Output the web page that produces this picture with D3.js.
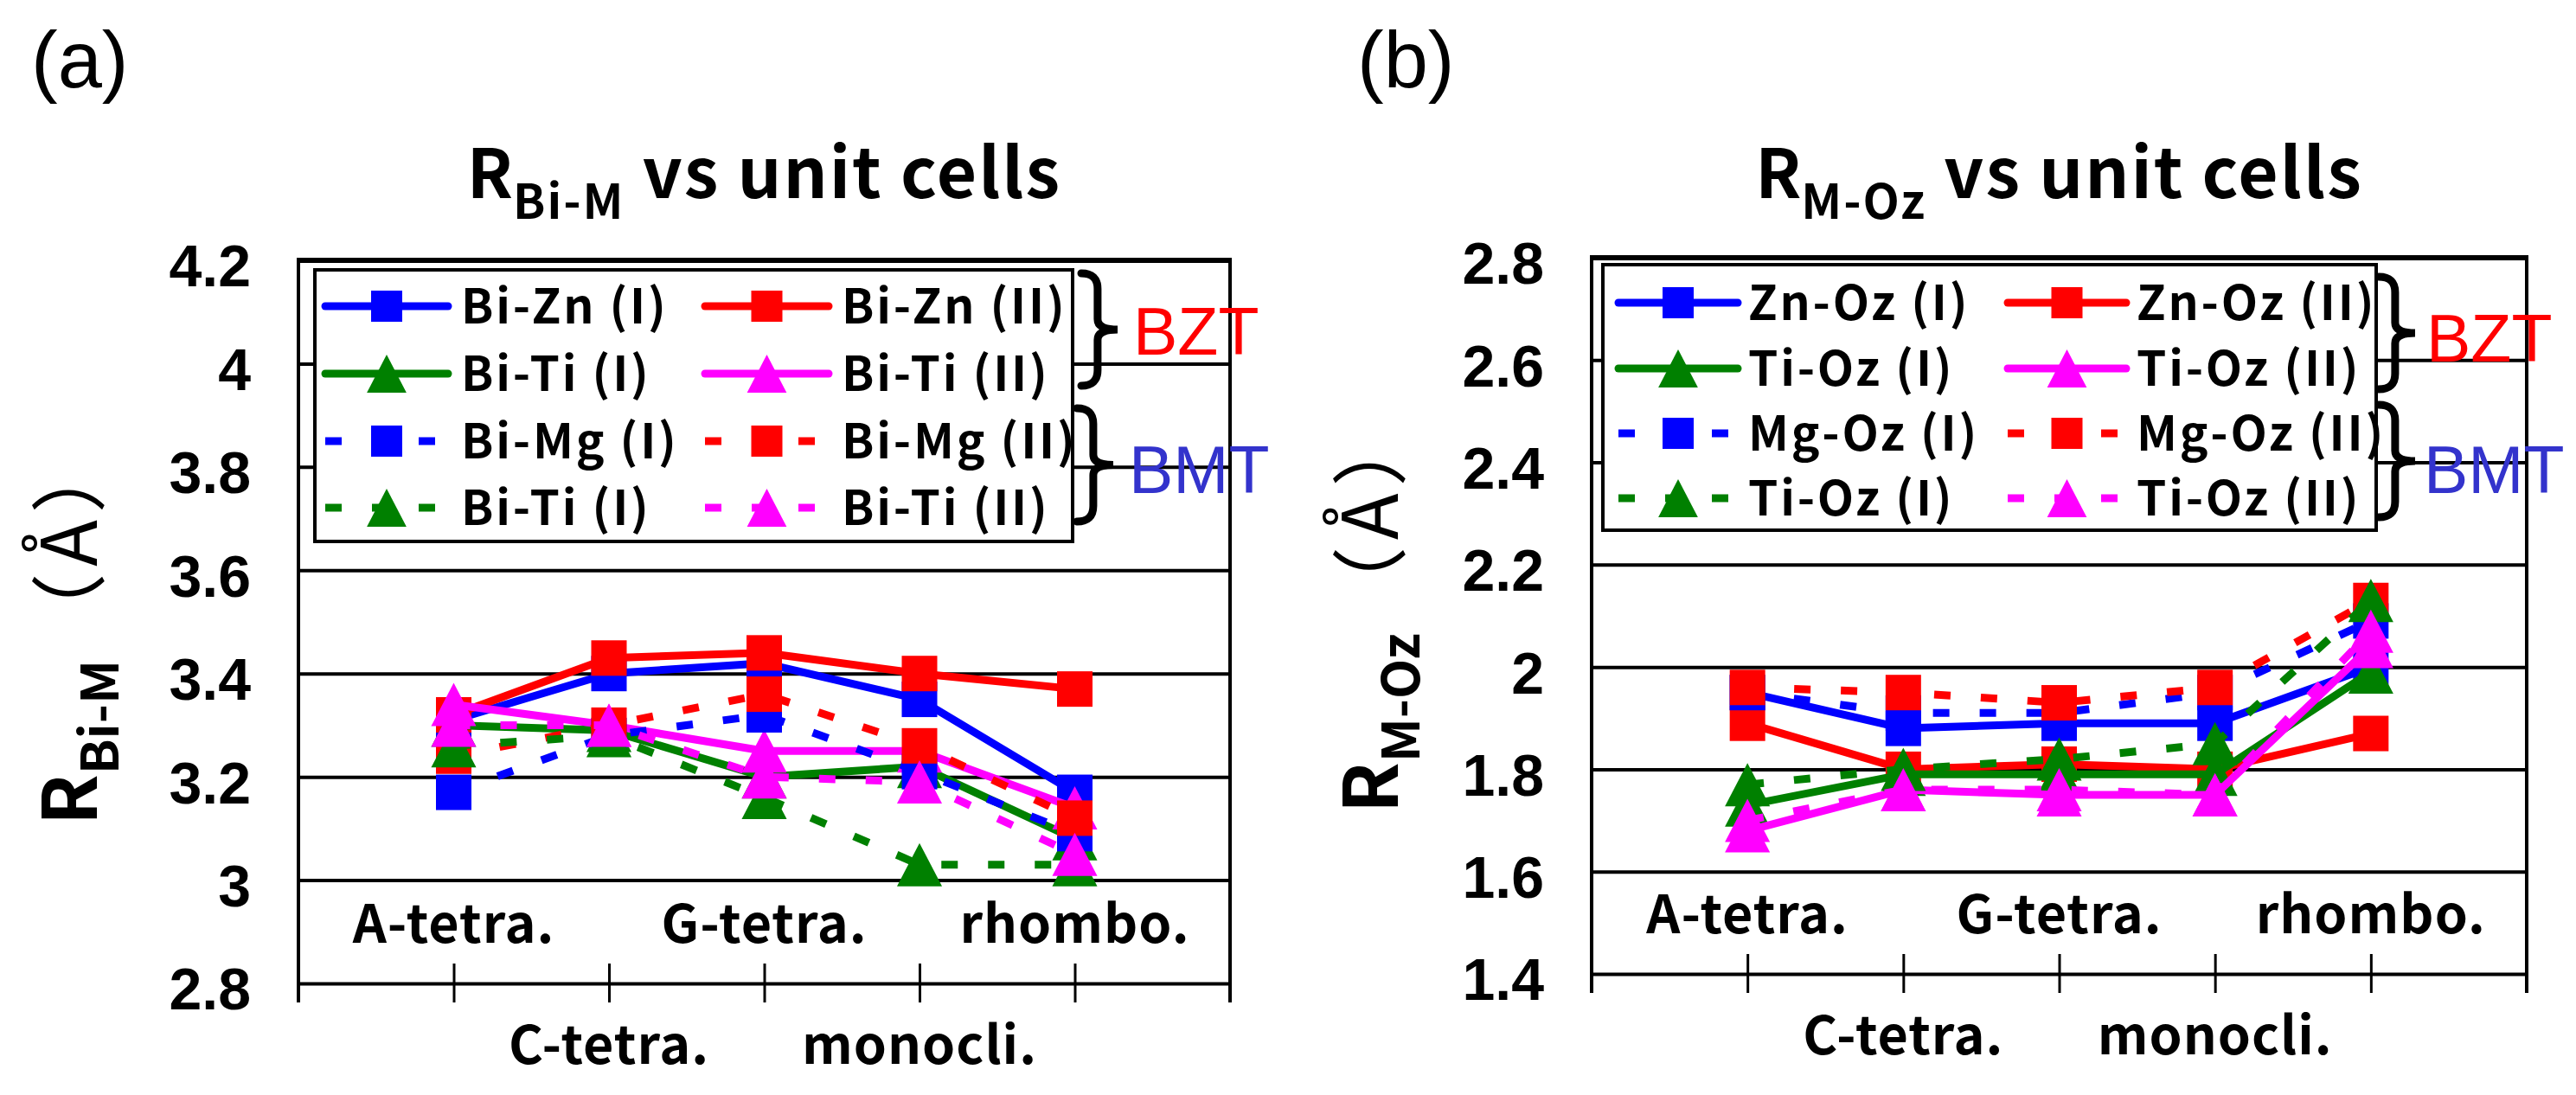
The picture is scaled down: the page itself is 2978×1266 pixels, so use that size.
<!DOCTYPE html>
<html>
<head>
<meta charset="utf-8">
<script src="https://cdn.jsdelivr.net/npm/d3@7"></script>
<style>
html, body { margin: 0; padding: 0; background: #fff; }
svg { display: block; }
</style>
</head>
<body>
<div id="chart"></div>
<script>
// categories on the x axis (same for both panels)
const cells = ['A-tetra.', 'C-tetra.', 'G-tetra.', 'monocli.', 'rhombo.'];

// panel (a): R Bi-M (angstrom)
const biZnI    = [3.31, 3.40, 3.42, 3.35, 3.17];
const biZnII   = [3.32, 3.43, 3.44, 3.40, 3.37];
const biTiIz   = [3.30, 3.29, 3.20, 3.22, 3.08];
const biTiIIz  = [3.34, 3.30, 3.25, 3.25, 3.14];
const biMgI    = [3.17, 3.28, 3.32, 3.21, 3.09];
const biMgII   = [3.24, 3.30, 3.36, 3.26, 3.12];
const biTiIm   = [3.26, 3.28, 3.16, 3.03, 3.03];
const biTiIIm  = [3.30, 3.30, 3.20, 3.19, 3.05];
const ticksA = [2.8, 3, 3.2, 3.4, 3.6, 3.8, 4, 4.2];
const namesA = ['Bi-Zn (I)', 'Bi-Zn (II)', 'Bi-Ti (I)', 'Bi-Ti (II)',
                'Bi-Mg (I)', 'Bi-Mg (II)', 'Bi-Ti (I)', 'Bi-Ti (II)'];

// panel (b): R M-Oz (angstrom)
const znOzI    = [1.95, 1.88, 1.89, 1.89, 2.00];
const znOzII   = [1.89, 1.80, 1.81, 1.80, 1.87];
const tiOzIz   = [1.73, 1.79, 1.79, 1.79, 1.99];
const tiOzIIz  = [1.68, 1.76, 1.75, 1.75, 2.04];
const mgOzI    = [1.95, 1.91, 1.91, 1.95, 2.09];
const mgOzII   = [1.96, 1.95, 1.93, 1.96, 2.13];
const tiOzIm   = [1.77, 1.80, 1.82, 1.85, 2.13];
const tiOzIIm  = [1.70, 1.76, 1.76, 1.75, 2.07];
const ticksB = [1.4, 1.6, 1.8, 2, 2.2, 2.4, 2.6, 2.8];
const namesB = ['Zn-Oz (I)', 'Zn-Oz (II)', 'Ti-Oz (I)', 'Ti-Oz (II)',
                'Mg-Oz (I)', 'Mg-Oz (II)', 'Ti-Oz (I)', 'Ti-Oz (II)'];

// look of the 8 series (same order in both panels)
const seriesStyle = [
    { color: '#0000ff', marker: 'square',   dash: false },
    { color: '#ff0000', marker: 'square',   dash: false },
    { color: '#008000', marker: 'triangle', dash: false },
    { color: '#ff00ff', marker: 'triangle', dash: false },
    { color: '#0000ff', marker: 'square',   dash: true },
    { color: '#ff0000', marker: 'square',   dash: true },
    { color: '#008000', marker: 'triangle', dash: true },
    { color: '#ff00ff', marker: 'triangle', dash: true }
];

const CJK = '"Noto Sans CJK JP", sans-serif';
const ARIAL = '"Liberation Sans", Arial, sans-serif';

const svg = d3.select('#chart')
    .append('svg')
    .attr('width', 2978)
    .attr('height', 1266);

//utilities
const drawMarker = (g, type, cx, cy, size, color) => {
    if (type === 'square') {
        g.append('rect')
            .attr('x', cx - size / 2)
            .attr('y', cy - size / 2)
            .attr('width', size)
            .attr('height', size)
            .attr('fill', color);
    } else {
        const w = size * 1.27, h = size * 1.22;
        g.append('path')
            .attr('d', `M${cx},${cy - h / 2} L${cx + w / 2},${cy + h / 2} L${cx - w / 2},${cy + h / 2} Z`)
            .attr('fill', color);
    }
};

const bracePath = (x0, yTop, yBot, w) => {
    const xm = x0 + w * 0.45, ym = (yTop + yBot) / 2, r = 18;
    return `M${x0},${yTop} Q${xm},${yTop} ${xm},${yTop + r} L${xm},${ym - 12} ` +
        `Q${xm},${ym} ${x0 + w},${ym} Q${xm},${ym} ${xm},${ym + 12} ` +
        `L${xm},${yBot - r} Q${xm},${yBot} ${x0},${yBot}`;
};

const drawPanel = (p) => {
    const g = svg.append('g');
    const x = d3.scalePoint().domain(cells).range([p.left, p.right]).padding(1);
    const y = d3.scaleLinear()
        .domain([p.ticks[0], p.ticks[p.ticks.length - 1]])
        .range([p.bottom, p.top]);
    const W = p.right - p.left;

    // gridlines
    g.append('g')
        .attr('transform', `translate(${p.left},0)`)
        .call(d3.axisRight(y).tickValues(p.ticks).tickSize(W).tickFormat(''))
        .call(a => a.select('.domain').remove())
        .selectAll('line')
        .attr('stroke', '#000')
        .attr('stroke-width', 4);
    g.append('line')
        .attr('x1', p.left).attr('x2', p.right)
        .attr('y1', p.top).attr('y2', p.top)
        .attr('stroke', '#000').attr('stroke-width', 6);

    // side borders
    [p.left, p.right].forEach(xx => {
        g.append('line')
            .attr('x1', xx).attr('x2', xx)
            .attr('y1', p.top - 3).attr('y2', p.bottom + 22)
            .attr('stroke', '#000').attr('stroke-width', 4);
    });

    // y tick labels
    g.append('g')
        .attr('transform', `translate(${p.left},0)`)
        .call(d3.axisLeft(y).tickValues(p.ticks).tickSize(0).tickPadding(55)
            .tickFormat(d => d3.format('~g')(d)))
        .call(a => a.select('.domain').remove())
        .selectAll('text')
        .attr('dy', '0.44em')
        .style('font-family', ARIAL)
        .style('font-size', '68px')
        .style('font-weight', 'bold')
        .style('fill', '#000');

    // category ticks crossing the bottom line
    g.append('g')
        .attr('transform', `translate(0,${p.bottom - 23})`)
        .call(d3.axisBottom(x).tickSize(45).tickFormat(''))
        .call(a => a.select('.domain').remove())
        .selectAll('line')
        .attr('stroke', '#000')
        .attr('stroke-width', 3);

    // category labels, staggered in two rows
    g.append('g')
        .selectAll('text')
        .data(cells)
        .join('text')
        .attr('x', d => x(d))
        .attr('y', (d, i) => i % 2 === 0 ? p.bottom - 47 : p.bottom + 93)
        .attr('text-anchor', 'middle')
        .style('font-family', CJK)
        .style('font-size', '61px')
        .style('font-weight', 'bold')
        .style('letter-spacing', '1px')
        .text(d => d);

    // series: line first, then its markers
    const line = d3.line().x((d, i) => x(cells[i])).y(d => y(d));
    p.series.forEach((vals, k) => {
        const s = seriesStyle[k];
        const sg = g.append('g');
        sg.append('path')
            .datum(vals)
            .attr('d', line)
            .attr('fill', 'none')
            .attr('stroke', s.color)
            .attr('stroke-width', 9)
            .attr('stroke-linejoin', 'round')
            .attr('stroke-linecap', s.dash ? 'butt' : 'round')
            .attr('stroke-dasharray', s.dash ? '19 35' : null);
        vals.forEach((v, i) => drawMarker(sg, s.marker, x(cells[i]), y(v), 41, s.color));
    });

    // legend
    const L = p.legend;
    const lg = g.append('g');
    lg.append('rect')
        .attr('x', L.x0).attr('y', L.y0)
        .attr('width', L.x1 - L.x0).attr('height', L.y1 - L.y0)
        .attr('fill', '#fff').attr('stroke', '#000').attr('stroke-width', 4);
    p.names.forEach((name, k) => {
        const s = seriesStyle[k];
        const c = L.cols[k % 2];
        const ry = L.rows[Math.floor(k / 2)];
        lg.append('line')
            .attr('x1', c.l0).attr('x2', c.l1)
            .attr('y1', ry).attr('y2', ry)
            .attr('stroke', s.color)
            .attr('stroke-width', 9)
            .attr('stroke-linecap', s.dash ? 'butt' : 'round')
            .attr('stroke-dasharray', s.dash ? '19 35' : null);
        drawMarker(lg, s.marker, (c.l0 + c.l1) / 2, ry, 36, s.color);
        lg.append('text')
            .attr('x', c.t).attr('y', ry + 20)
            .style('font-family', CJK)
            .style('font-size', '55px')
            .style('font-weight', 'bold')
            .style('letter-spacing', '2.8px')
            .text(name);
    });

    // braces with BZT / BMT
    p.braces.forEach(b => {
        g.append('path')
            .attr('d', bracePath(b.x, b.y0, b.y1, 42))
            .attr('fill', 'none')
            .attr('stroke', '#000')
            .attr('stroke-width', 9)
            .attr('stroke-linecap', 'round');
        g.append('text')
            .attr('x', b.tx).attr('y', b.ty)
            .style('font-family', ARIAL)
            .style('font-size', '77px')
            .style('fill', b.color)
            .text(b.label);
    });

    // header
    const title = g.append('text')
        .attr('x', (p.left + p.right) / 2)
        .attr('y', 229)
        .attr('text-anchor', 'middle')
        .style('font-family', CJK)
        .style('font-weight', 'bold');
    title.append('tspan').style('font-size', '78px').text('R');
    title.append('tspan').attr('dy', 24).style('font-size', '55px').style('letter-spacing', '2px').text(p.sub);
    title.append('tspan').attr('dy', -24).style('font-size', '80px').style('letter-spacing', '2px')
        .text(' vs unit cells');

    // y axis title
    const yt = g.append('text')
        .attr('transform', `translate(${p.yTitleX},${p.yTitleY}) rotate(-90)`)
        .style('font-family', CJK);
    yt.append('tspan').style('font-size', '86px').style('font-weight', 'bold').text('R');
    yt.append('tspan').attr('dy', 25).style('font-size', '60px').style('font-weight', 'bold').text(p.sub);
    yt.append('tspan').attr('dy', -25).attr('dx', 12).style('font-size', '88px')
        .style('letter-spacing', '8px').text('（Å）');

    // panel letter
    g.append('text')
        .attr('x', p.letterX).attr('y', 101)
        .style('font-family', ARIAL)
        .style('font-size', '92px')
        .text(p.letter);
};

drawPanel({
    letter: '(a)', letterX: 36, sub: 'Bi-M',
    left: 345, right: 1422, top: 301, bottom: 1137,
    ticks: ticksA, names: namesA,
    series: [biZnI, biZnII, biTiIz, biTiIIz, biMgI, biMgII, biTiIm, biTiIIm],
    legend: {
        x0: 364, x1: 1240, y0: 312, y1: 626,
        rows: [354, 432, 510, 587],
        cols: [{ l0: 376, l1: 518, t: 533 }, { l0: 815, l1: 958, t: 973 }]
    },
    braces: [
        { x: 1250, y0: 316, y1: 446, tx: 1310, ty: 410, label: 'BZT', color: '#ff0000' },
        { x: 1245, y0: 472, y1: 603, tx: 1305, ty: 570, label: 'BMT', color: '#3333cc' }
    ],
    yTitleX: 112, yTitleY: 954
});

drawPanel({
    letter: '(b)', letterX: 1569, sub: 'M-Oz',
    left: 1840, right: 2921, top: 298, bottom: 1126,
    ticks: ticksB, names: namesB,
    series: [znOzI, znOzII, tiOzIz, tiOzIIz, mgOzI, mgOzII, tiOzIm, tiOzIIm],
    legend: {
        x0: 1853, x1: 2747, y0: 306, y1: 613,
        rows: [350, 426, 501, 576],
        cols: [{ l0: 1871, l1: 2009, t: 2021 }, { l0: 2321, l1: 2458, t: 2470 }]
    },
    braces: [
        { x: 2750, y0: 320, y1: 450, tx: 2805, ty: 418, label: 'BZT', color: '#ff0000' },
        { x: 2750, y0: 468, y1: 598, tx: 2802, ty: 570, label: 'BMT', color: '#3333cc' }
    ],
    yTitleX: 1616, yTitleY: 940
});
</script>
</body>
</html>
